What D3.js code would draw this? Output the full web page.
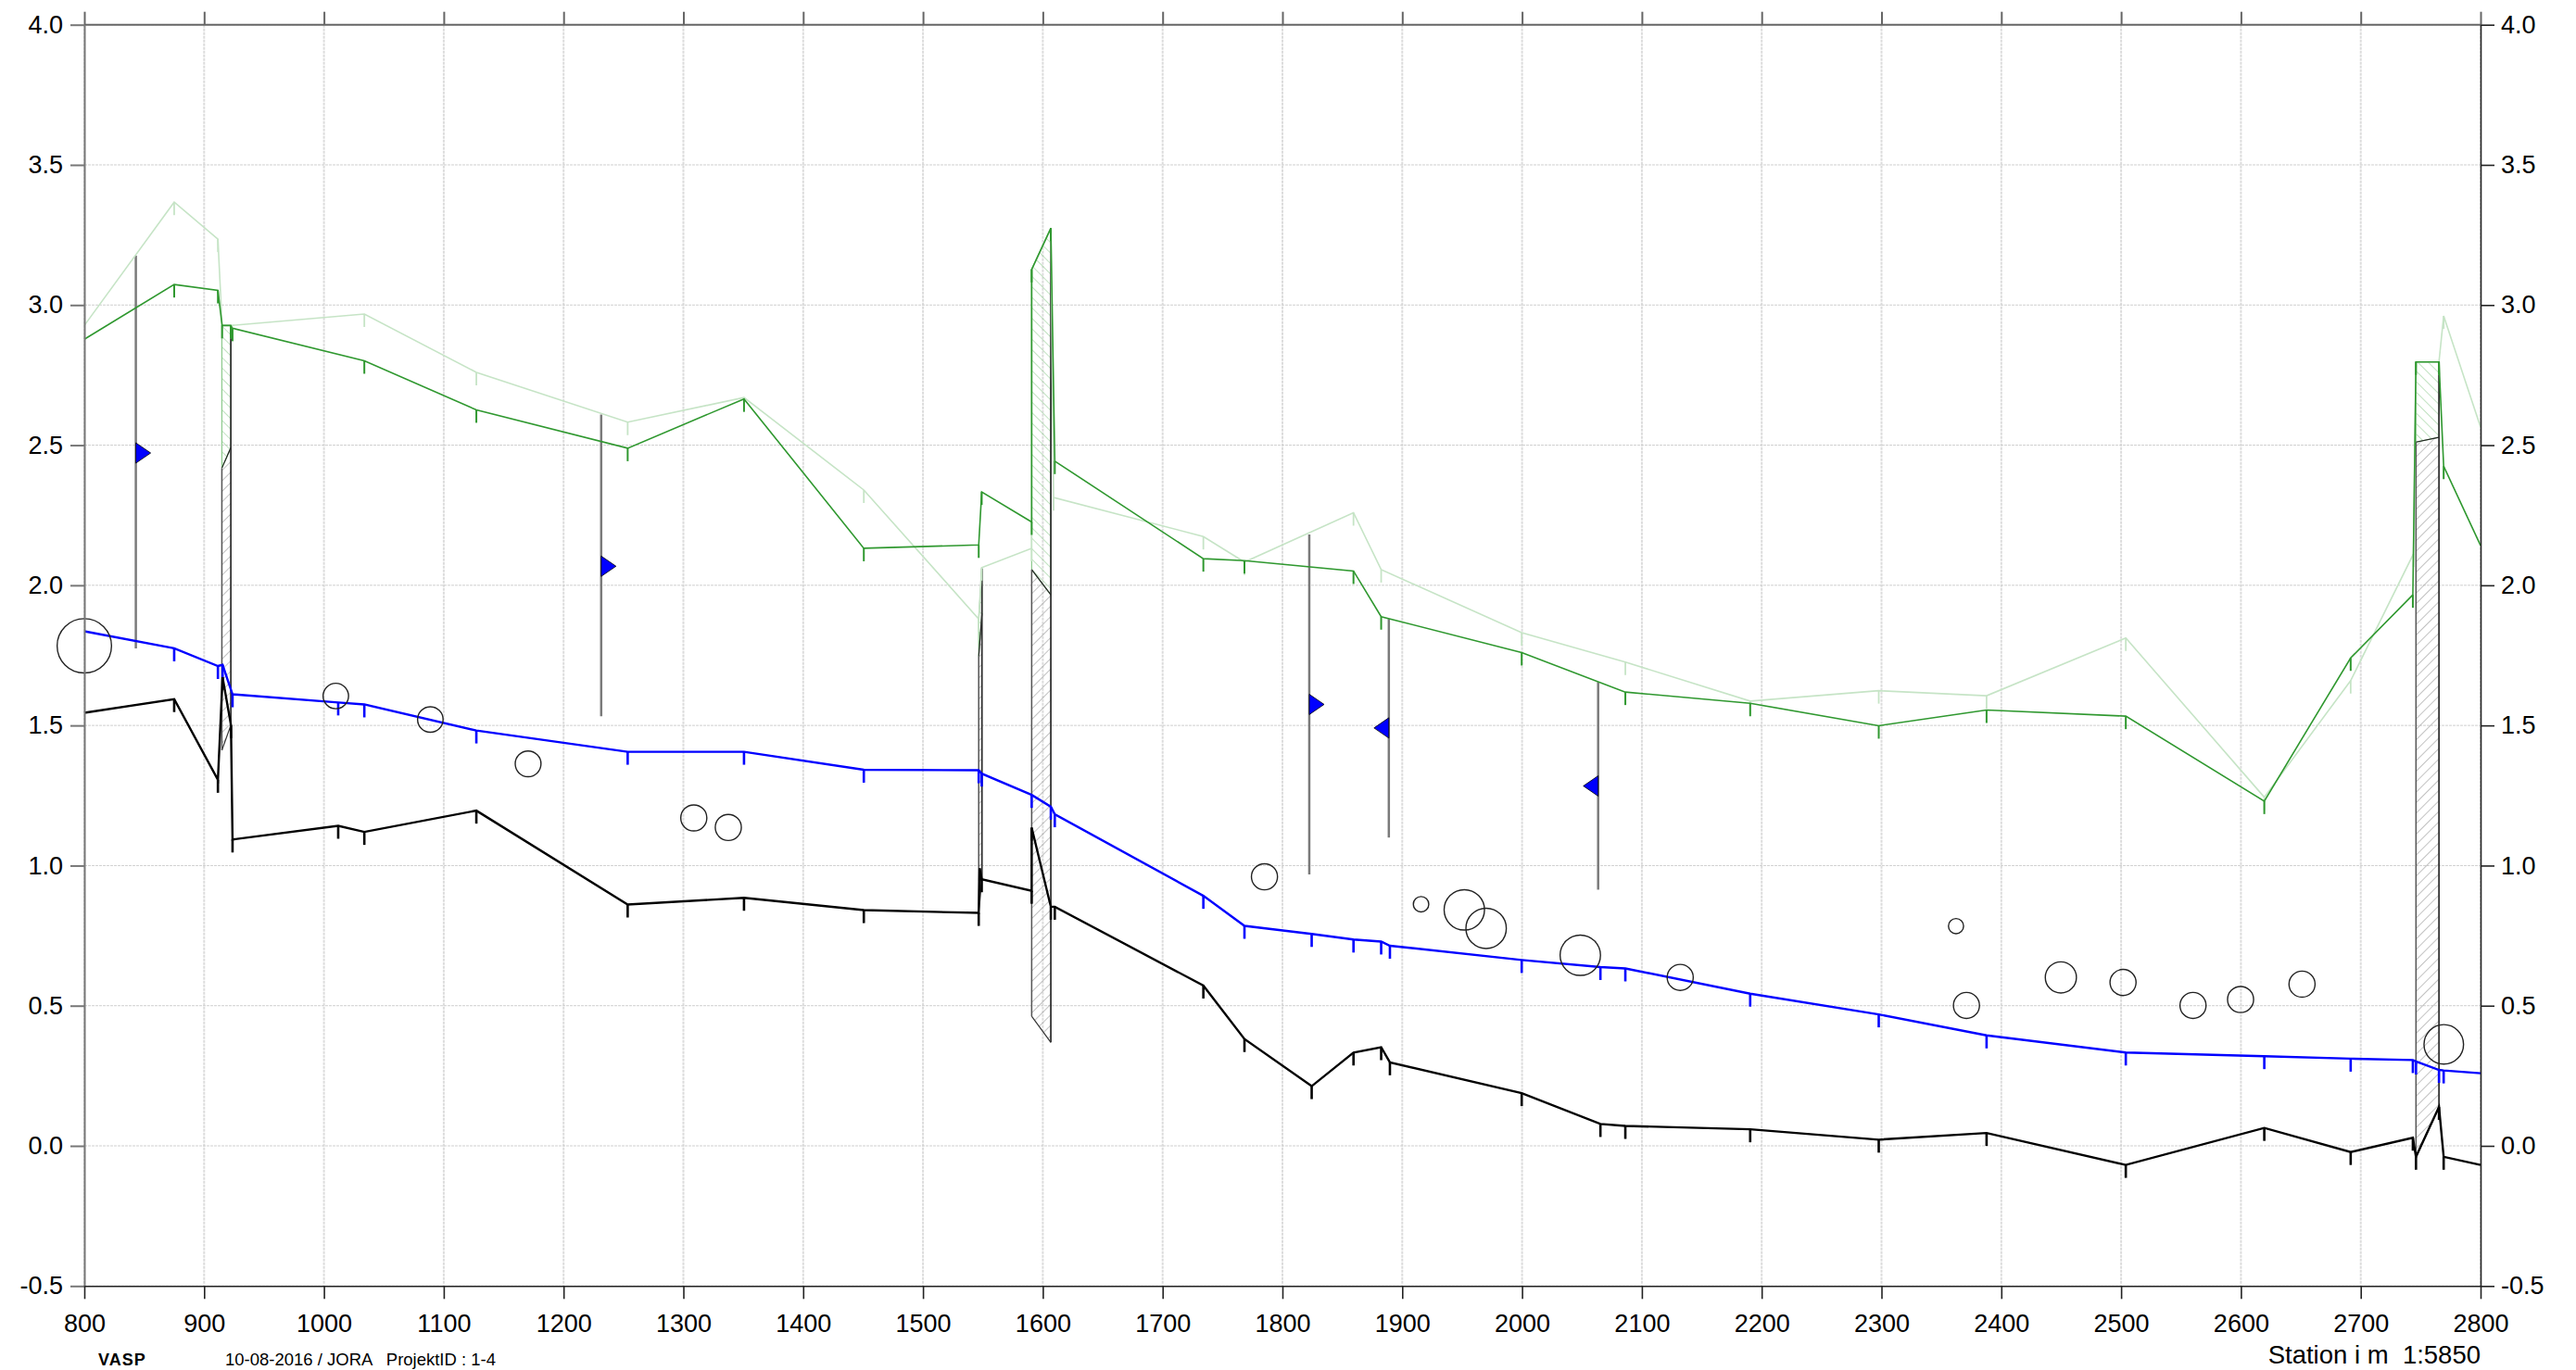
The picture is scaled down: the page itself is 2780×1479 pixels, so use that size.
<!DOCTYPE html>
<html><head><meta charset="utf-8">
<script src="https://cdn.jsdelivr.net/npm/d3@7"></script>
<style>
html,body{margin:0;padding:0;background:#fff;}
svg{display:block;font-family:"Liberation Sans", Arial, Helvetica, sans-serif;}
</style></head><body>
<svg id="chart" width="2780" height="1479"></svg>
<script>
// ---------- DATA ----------
const xTickValues = [800,900,1000,1100,1200,1300,1400,1500,1600,1700,1800,1900,2000,2100,2200,2300,2400,2500,2600,2700,2800];
const yTickValues = [-0.5,0.0,0.5,1.0,1.5,2.0,2.5,3.0,3.5,4.0];
const yTickLabels = ["-0.5","0.0","0.5","1.0","1.5","2.0","2.5","3.0","3.5","4.0"];

// pale green terrain line [station, level]
const terrainPale = [
 [800,2.927],[875,3.367],[911.5,3.235],[915,2.927],[922.2,2.927],[1033.7,2.968],[1127.2,2.760],
 [1253.5,2.582],[1350.6,2.670],[1450.6,2.340],[1546.5,1.880],[1549,2.063],[1590.7,2.132],
 [1590.7,3.127],[1606.7,3.274],[1609,2.313],[1734,2.174],[1768.3,2.083],[1859.3,2.259],
 [1882.4,2.056],[1999.7,1.831],[2086.2,1.726],[2190.4,1.587],[2297.7,1.624],[2387.7,1.606],
 [2503.9,1.812],[2619.5,1.244],[2691.6,1.660],[2744,2.112],[2746.1,2.797],[2765.3,2.797],
 [2769.2,2.961],[2800,2.565]
];
// green terrain line
const terrain = [
 [800,2.878],[875,3.073],[911.5,3.052],[915,2.927],[922.2,2.927],[923.7,2.917],[1033.7,2.801],
 [1127.2,2.626],[1253.5,2.489],[1350.6,2.665],[1450.6,2.132],[1546.5,2.144],[1549,2.333],
 [1590.7,2.226],[1590.7,3.127],[1606.7,3.274],[1610,2.443],[1734,2.095],[1768.3,2.088],
 [1859.3,2.051],[1882.4,1.888],[1999.7,1.760],[2086.2,1.619],[2190.4,1.579],[2297.7,1.499],
 [2387.7,1.555],[2503.9,1.533],[2619.5,1.230],[2691.6,1.741],[2743.5,1.966],[2746.1,2.797],
 [2765.3,2.797],[2769.2,2.425],[2800,2.142]
];
// blue water level
const waterLevel = [
 [800,1.836],[875,1.775],[911.5,1.712],[915.4,1.716],[923.7,1.611],[1011.9,1.582],[1033.7,1.575],
 [1127.2,1.482],[1253.5,1.406],[1350.6,1.406],[1450.6,1.342],[1546.5,1.340],[1549,1.328],
 [1590.7,1.252],[1606.7,1.210],[1610,1.183],[1734,0.892],[1768.3,0.785],[1824.4,0.756],
 [1859.3,0.736],[1882.4,0.729],[1889.7,0.714],[1999.7,0.663],[2065.4,0.638],[2086.2,0.633],
 [2190.4,0.543],[2297.7,0.469],[2387.7,0.394],[2503.9,0.333],[2619.5,0.320],[2691.6,0.311],
 [2743.5,0.306],[2746.1,0.301],[2765.3,0.271],[2769.2,0.269],[2800,0.259]
];
// black pipe invert
const pipeInvert = [
 [800,1.545],[875,1.594],[911.5,1.306],[915.4,1.672],[922.4,1.501],[923.7,1.093],[1011.9,1.142],
 [1033.7,1.120],[1127.2,1.196],[1253.5,0.861],[1350.6,0.885],[1450.6,0.841],[1546.5,0.831],
 [1547.3,0.990],[1549,0.951],[1590.7,0.910],[1590.7,1.135],[1606.7,0.853],[1610,0.853],
 [1734,0.572],[1768.3,0.381],[1824.4,0.213],[1859.3,0.333],[1882.4,0.352],[1889.7,0.298],
 [1999.7,0.188],[2065.4,0.078],[2086.2,0.071],[2190.4,0.059],[2297.7,0.022],[2387.7,0.046],
 [2503.9,-0.068],[2619.5,0.064],[2691.6,-0.022],[2743.5,0.029],[2746.1,-0.039],[2765.3,0.139],
 [2769.2,-0.039],[2800,-0.068]
];
// vertical wells with blue flags
const wellStations = [843, 1231.4, 1822.4, 1888.8, 2063.5];
const wellTops     = [3.176, 2.609, 2.181, 1.880, 1.655];
const wellBottoms  = [1.775, 1.533, 0.968, 1.100, 0.914];
const wellFlags    = [2.472, 2.068, 1.575, 1.491, 1.284];
const wellFlagDir  = [1, 1, 1, -1, -1];

// crossing circles (centre station, centre level, diameter in m)
const circleStations  = [800,1009.9,1088.8,1170.4,1308.7,1337.5,1785,1915.7,1951.8,1970,2048.6,2132,2362.2,2370.9,2449.7,2501.6,2560,2599.7,2651,2769.3];
const circleLevels    = [1.784,1.605,1.521,1.363,1.170,1.136,0.960,0.862,0.842,0.776,0.680,0.601,0.784,0.501,0.601,0.583,0.501,0.522,0.577,0.362];
const circleDiameters = [0.194,0.091,0.091,0.092,0.093,0.093,0.093,0.055,0.144,0.144,0.144,0.093,0.054,0.093,0.111,0.093,0.093,0.093,0.093,0.141];

// manholes
const boxX0   = [914.8, 1546.5, 1590.7, 2746.1];
const boxX1   = [922.3, 1549.2, 1606.7, 2765.3];
const boxTopL = [2.927, 1.880, 3.127, 2.797];
const boxTopR = [2.927, 2.060, 3.274, 2.797];
const boxDivL = [2.418, 1.746, 2.056, 2.511];
const boxDivR = [2.491, 1.900, 1.966, 2.528];
const boxBotL = [1.411, 0.831, 0.462, -0.039];
const boxBotR = [1.501, 0.951, 0.369, 0.139];

// ---------- DRAW ----------
const svg = d3.select("#chart");
const m = {left:91, right:2677, top:26.7, bottom:1388.3};
const x = d3.scaleLinear().domain([800,2800]).range([m.left,m.right]);
const y = d3.scaleLinear().domain([-0.5,4.0]).range([m.bottom,m.top]);

const defs = svg.append("defs");
function hatch(id, color, dir){
  const p = defs.append("pattern").attr("id",id).attr("patternUnits","userSpaceOnUse")
    .attr("width",8).attr("height",8).attr("patternTransform","rotate("+(dir>0?45:-45)+")");
  p.append("line").attr("x1",0).attr("y1",0).attr("x2",0).attr("y2",8)
    .attr("stroke",color).attr("stroke-width",1.3);
}
hatch("hGreen","#9fd39f",-1);
hatch("hGray","#a0a0a0",1);

// grid
const grid = svg.append("g");
grid.selectAll(".vg").data(xTickValues).join("line")
  .attr("x1",d=>x(d)).attr("x2",d=>x(d)).attr("y1",m.top).attr("y2",m.bottom)
  .attr("stroke","#dcdcdc").attr("stroke-width",2).attr("stroke-dasharray","3,1");
grid.selectAll(".hg").data(yTickValues).join("line")
  .attr("x1",m.left).attr("x2",m.right).attr("y1",d=>y(d)).attr("y2",d=>y(d))
  .attr("stroke","#cfcfcf").attr("stroke-width",1).attr("stroke-dasharray","3,1");

// manholes
const boxes = d3.range(boxX0.length).map(i=>({x0:boxX0[i],x1:boxX1[i],tl:boxTopL[i],tr:boxTopR[i],dl:boxDivL[i],dr:boxDivR[i],bl:boxBotL[i],br:boxBotR[i]}));
const bg = svg.append("g");
boxes.forEach(b=>{
  const green = [[b.x0,b.tl],[b.x1,b.tr],[b.x1,b.dr],[b.x0,b.dl]];
  const gray  = [[b.x0,b.dl],[b.x1,b.dr],[b.x1,b.br],[b.x0,b.bl]];
  const pts = a=>a.map(p=>x(p[0])+","+y(p[1])).join(" ");
  bg.append("polygon").attr("points",pts(green)).attr("fill","url(#hGreen)").attr("stroke","#8cc98c").attr("stroke-width",1.2);
  bg.append("polygon").attr("points",pts(gray)).attr("fill","url(#hGray)").attr("stroke","none");
  bg.append("line").attr("x1",x(b.x0)).attr("y1",y(b.dl)).attr("x2",x(b.x1)).attr("y2",y(b.dr)).attr("stroke","#222").attr("stroke-width",1.2);
  bg.append("line").attr("x1",x(b.x0)).attr("y1",y(b.bl)).attr("x2",x(b.x1)).attr("y2",y(b.br)).attr("stroke","#333").attr("stroke-width",1.2);
  bg.append("line").attr("x1",x(b.x0)).attr("y1",y(b.dl)).attr("x2",x(b.x0)).attr("y2",y(b.bl)).attr("stroke","#555").attr("stroke-width",1.5);
  bg.append("line").attr("x1",x(b.x1)).attr("y1",y(b.tr)).attr("x2",x(b.x1)).attr("y2",y(b.br)).attr("stroke","#333").attr("stroke-width",1.8);
});

// wells
const wells = d3.range(wellStations.length).map(i=>({s:wellStations[i],t:wellTops[i],b:wellBottoms[i],f:wellFlags[i],d:wellFlagDir[i]}));
svg.append("g").selectAll("line").data(wells).join("line")
  .attr("x1",d=>x(d.s)).attr("x2",d=>x(d.s)).attr("y1",d=>y(d.t)).attr("y2",d=>y(d.b))
  .attr("stroke","#7a7a7a").attr("stroke-width",2.5);

// series lines
const line = d3.line().x(d=>x(d[0])).y(d=>y(d[1]));
function series(data, color, width, tickWidth){
  const g = svg.append("g");
  g.append("path").datum(data).attr("d",line).attr("fill","none").attr("stroke",color)
    .attr("stroke-width",width).attr("stroke-linejoin","miter");
  g.selectAll("line").data(data.slice(1,-1)).join("line")
    .attr("x1",d=>x(d[0])).attr("x2",d=>x(d[0])).attr("y1",d=>y(d[1])).attr("y2",d=>y(d[1])+14)
    .attr("stroke",color).attr("stroke-width",tickWidth);
}
series(terrainPale, "#c6e4c6", 1.6, 1.8);
series(terrain, "#2f982f", 1.6, 2);
series(waterLevel, "#0000ff", 2.4, 2.6);
series(pipeInvert, "#000000", 2.4, 2.6);

// circles
const circles = d3.range(circleStations.length).map(i=>({s:circleStations[i],l:circleLevels[i],d:circleDiameters[i]}));
svg.append("g").selectAll("circle").data(circles).join("circle")
  .attr("cx",d=>x(d.s)).attr("cy",d=>y(d.l)).attr("r",d=>(y(0)-y(d.d))/2)
  .attr("fill","none").attr("stroke","#222").attr("stroke-width",1.4);

// flags
svg.append("g").selectAll("path").data(wells).join("path")
  .attr("d",d=>{const cx=x(d.s), cy=y(d.f); return `M${cx},${cy-11}L${cx},${cy+11}L${cx+16*d.d},${cy}Z`;})
  .attr("fill","#0000ff").attr("stroke","#000").attr("stroke-width",0.8);

// axes
function styleAxis(g, lineColor, lineWidth){
  g.select(".domain").attr("stroke",lineColor).attr("stroke-width",lineWidth);
  g.selectAll(".tick line").attr("stroke",lineColor).attr("stroke-width",lineWidth);
  g.selectAll(".tick text").attr("fill","#000").style("font-size","27px").style("font-family",'"Liberation Sans", Arial, sans-serif');
}
const yFmt = d => yTickLabels[yTickValues.indexOf(d)];
const gTop = svg.append("g").attr("transform",`translate(0,${m.top})`)
  .call(d3.axisTop(x).tickValues(xTickValues).tickSize(14).tickSizeOuter(0).tickFormat(""));
styleAxis(gTop,"#666",2);
const gLeft = svg.append("g").attr("transform",`translate(${m.left},0)`)
  .call(d3.axisLeft(y).tickValues(yTickValues).tickSize(15).tickSizeOuter(0).tickPadding(8).tickFormat(yFmt));
styleAxis(gLeft,"#777",2);
const gBottom = svg.append("g").attr("transform",`translate(0,${m.bottom})`)
  .call(d3.axisBottom(x).tickValues(xTickValues).tickSize(14).tickSizeOuter(0).tickPadding(17).tickFormat(d3.format("d")));
styleAxis(gBottom,"#222",1.6);
const gRight = svg.append("g").attr("transform",`translate(${m.right},0)`)
  .call(d3.axisRight(y).tickValues(yTickValues).tickSize(15).tickSizeOuter(0).tickPadding(7).tickFormat(yFmt));
styleAxis(gRight,"#222",1.6);
gTop.select(".domain").attr("d",`M${m.left},0H${m.right}`);

// footer texts
svg.append("text").attr("x",m.right).attr("y",1472).attr("text-anchor","end")
  .style("font-size","27.5px").style("white-space","pre").text("Station i m  1:5850");
svg.append("text").attr("x",106).attr("y",1474).style("font-size","18px").style("font-weight","bold")
  .style("letter-spacing","1px").text("VASP");
svg.append("text").attr("x",243).attr("y",1474).style("font-size","18.5px").style("white-space","pre")
  .text("10-08-2016 / JORA   ProjektID : 1-4");
</script>
</body></html>
